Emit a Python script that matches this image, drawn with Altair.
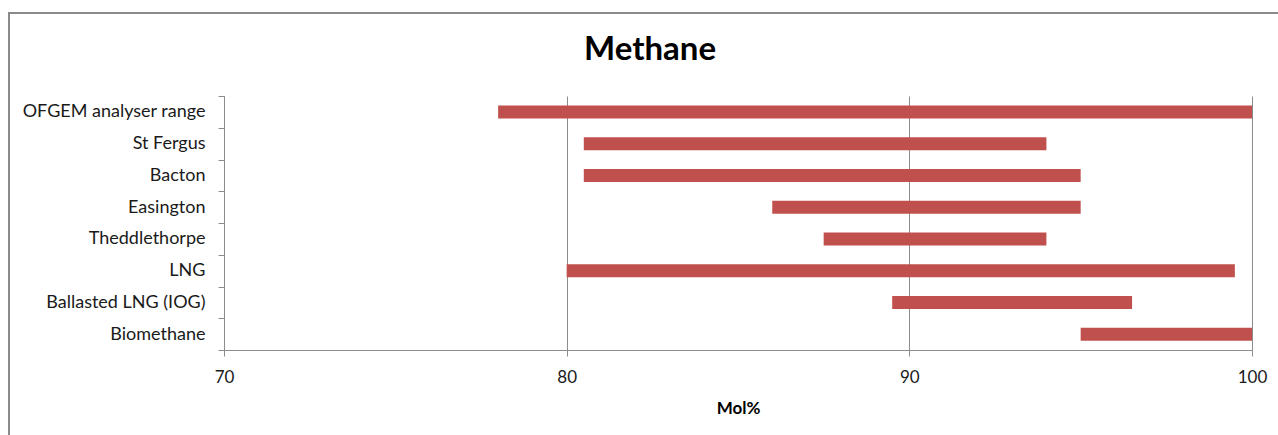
import altair as alt
import pandas as pd

# Methane content ranges (mol%) by entry point / source
categories = [
    "OFGEM analyser range",
    "St Fergus",
    "Bacton",
    "Easington",
    "Theddlethorpe",
    "LNG",
    "Ballasted LNG (IOG)",
    "Biomethane",
]
low = [78, 80.5, 80.5, 86, 87.5, 80, 89.5, 95]
high = [100, 94, 95, 95, 94, 99.5, 96.5, 100]
x_ticks = [70, 80, 90, 100]

df = pd.DataFrame({"source": categories, "low": low, "high": high})

FONT = "Lato"
GRID = "#8c8c8c"
TEXT = "#1a1a1a"

bars = alt.Chart(df).mark_bar(color="#C0504D", size=13).encode(
    y=alt.Y(
        "source:N",
        sort=categories,
        title=None,
        scale=alt.Scale(paddingInner=0, paddingOuter=0),
        axis=alt.Axis(
            tickBand="extent",
            tickSize=6,
            labelPadding=13,
            labelFontSize=18,
            labelFont=FONT,
            labelColor=TEXT,
            domainColor=GRID,
            tickColor=GRID,
            grid=False,
            labelLimit=400,
        ),
    ),
    x=alt.X(
        "low:Q",
        title="Mol%",
        scale=alt.Scale(domain=[70, 100], nice=False, zero=False),
        axis=alt.Axis(
            values=x_ticks,
            tickSize=6,
            labelPadding=13,
            labelFontSize=17,
            labelFont=FONT,
            labelColor=TEXT,
            labelFlush=False,
            domainColor=GRID,
            tickColor=GRID,
            grid=True,
            gridColor=GRID,
            titleFont=FONT,
            titleFontSize=17,
            titleFontWeight="bold",
            titleColor="#000000",
            titlePadding=15,
        ),
    ),
    x2="high:Q",
)

# outer chart frame
frame = alt.Chart(alt.Data(values=[{}])).mark_rect(
    fill=None, stroke="#8a8a8a", strokeWidth=2
).encode(
    x=alt.value(-215),
    x2=alt.value(1200),
    y=alt.value(-83),
    y2=alt.value(500),
)

chart = (
    alt.layer(frame, bars)
    .properties(
        width=1028,
        height=254,
        autosize=alt.AutoSizeParams(type="none"),
        padding={"left": 224, "top": 96, "right": 26, "bottom": 85},
        title=alt.TitleParams(
            "Methane",
            font=FONT,
            fontSize=33,
            fontWeight="bold",
            color="#000000",
            anchor="middle",
            frame="group",
            baseline="bottom",
            dx=-88,
            offset=-88,
        ),
    )
    .configure_view(stroke=None)
)

chart.save("out.html", embed_options={"renderer": "svg", "actions": False})
